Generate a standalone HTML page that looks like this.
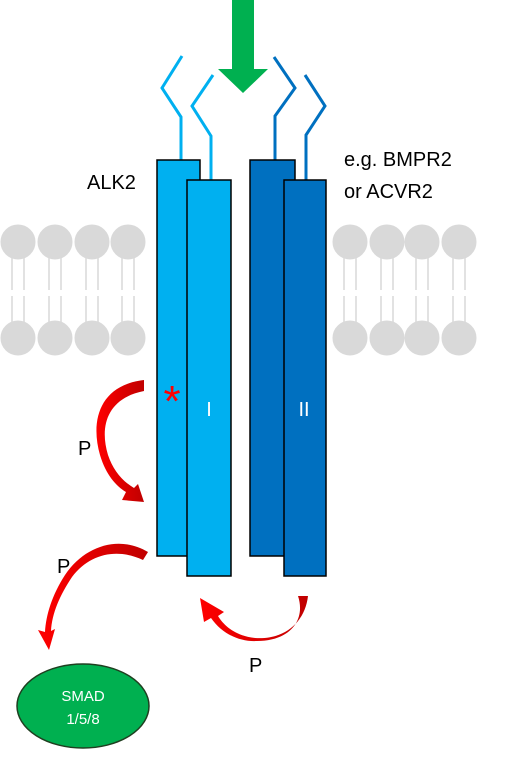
<!DOCTYPE html>
<html><head><meta charset="utf-8"><style>
body{margin:0;background:#fff;}
svg{display:block;font-family:"Liberation Sans",sans-serif;}
</style></head><body>
<svg width="505" height="758" viewBox="0 0 505 758">
<defs>
<linearGradient id="rg" x1="0" y1="0" x2="1" y2="0"><stop offset="0" stop-color="#ff0000"/><stop offset="1" stop-color="#c00000"/></linearGradient>
</defs>
<g fill="#d9d9d9" stroke="#d9d9d9">
<g stroke-width="1.5">
<line x1="12" y1="258" x2="12" y2="290"/><line x1="24" y1="258" x2="24" y2="290"/><line x1="49" y1="258" x2="49" y2="290"/><line x1="61" y1="258" x2="61" y2="290"/><line x1="86" y1="258" x2="86" y2="290"/><line x1="98" y1="258" x2="98" y2="290"/><line x1="122" y1="258" x2="122" y2="290"/><line x1="134" y1="258" x2="134" y2="290"/>
<line x1="12" y1="296" x2="12" y2="322"/><line x1="24" y1="296" x2="24" y2="322"/><line x1="49" y1="296" x2="49" y2="322"/><line x1="61" y1="296" x2="61" y2="322"/><line x1="86" y1="296" x2="86" y2="322"/><line x1="98" y1="296" x2="98" y2="322"/><line x1="122" y1="296" x2="122" y2="322"/><line x1="134" y1="296" x2="134" y2="322"/>
<line x1="344" y1="258" x2="344" y2="290"/><line x1="356" y1="258" x2="356" y2="290"/><line x1="381" y1="258" x2="381" y2="290"/><line x1="393" y1="258" x2="393" y2="290"/><line x1="416" y1="258" x2="416" y2="290"/><line x1="428" y1="258" x2="428" y2="290"/><line x1="453" y1="258" x2="453" y2="290"/><line x1="465" y1="258" x2="465" y2="290"/>
<line x1="344" y1="296" x2="344" y2="322"/><line x1="356" y1="296" x2="356" y2="322"/><line x1="381" y1="296" x2="381" y2="322"/><line x1="393" y1="296" x2="393" y2="322"/><line x1="416" y1="296" x2="416" y2="322"/><line x1="428" y1="296" x2="428" y2="322"/><line x1="453" y1="296" x2="453" y2="322"/><line x1="465" y1="296" x2="465" y2="322"/>
</g>
<circle cx="18" cy="242" r="17"/><circle cx="55" cy="242" r="17"/><circle cx="92" cy="242" r="17"/><circle cx="128" cy="242" r="17"/>
<circle cx="18" cy="338" r="17"/><circle cx="55" cy="338" r="17"/><circle cx="92" cy="338" r="17"/><circle cx="128" cy="338" r="17"/>
<circle cx="350" cy="242" r="17"/><circle cx="387" cy="242" r="17"/><circle cx="422" cy="242" r="17"/><circle cx="459" cy="242" r="17"/>
<circle cx="350" cy="338" r="17"/><circle cx="387" cy="338" r="17"/><circle cx="422" cy="338" r="17"/><circle cx="459" cy="338" r="17"/>
</g>
<g fill="#00b050">
<rect x="232" y="0" width="22" height="70"/><polygon points="218,69 268,69 243,93"/>
</g>
<g fill="none" stroke-width="3">
<polyline points="181,160 181,117 162,88 182,56" stroke="#00b0f0"/>
<polyline points="211,180 211,136 192,106 213,75" stroke="#00b0f0"/>
<polyline points="275,160 275,116 295,88 274,57" stroke="#0070c0"/>
<polyline points="306,180 306,135 325,106 305,75" stroke="#0070c0"/>
</g>
<g stroke="#000" stroke-width="1.5">
<rect x="157" y="160" width="43" height="396" fill="#00b0f0"/>
<rect x="187" y="180" width="44" height="396" fill="#00b0f0"/>
<rect x="250" y="160" width="45" height="396" fill="#0070c0"/>
<rect x="284" y="180" width="42" height="396" fill="#0070c0"/>
</g>
<text x="209" y="416" fill="#fff" font-size="20" text-anchor="middle">I</text>
<text x="304" y="416" fill="#fff" font-size="20" text-anchor="middle">II</text>
<text x="87" y="189" font-size="20" fill="#000">ALK2</text>
<text font-size="20" fill="#000"><tspan x="344" y="166">e.g. BMPR2</tspan><tspan x="344" y="198">or ACVR2</tspan></text>
<text x="172" y="416" font-size="44" fill="#ff0000" text-anchor="middle">*</text>
<g fill="url(#rg)">
<path d="M144,380 C100,385 90,420 100,455 C106,475 116,486 126,492 L122,500 L144,502 L138,484 L134,488 C122,481 113,470 108,455 C99,425 108,398 144,391 Z"/>
<path d="M148,552 C120,535 85,545 65,575 C52,595 46,615 45,632 L38,630 L49,650 L55,629 L51,631 C52,613 60,595 72,577 C90,553 118,548 143,560 Z"/>
<path d="M308,596 C305,622 285,640 255,638 C236,636 224,626 218,616 L224,612 L200,598 L204,622 L211,618 C222,634 240,642 257,641 C290,641 306,620 298,596 Z"/>
</g>
<text x="78" y="455" font-size="20">P</text>
<text x="57" y="573" font-size="20">P</text>
<text x="249" y="672" font-size="20">P</text>
<g>
<ellipse cx="83" cy="706" rx="66" ry="42" fill="#00b050" stroke="#1f3f20" stroke-width="1.5"/>
<text x="83" y="701" fill="#fff" font-size="15" text-anchor="middle">SMAD</text>
<text x="83" y="724" fill="#fff" font-size="15" text-anchor="middle">1/5/8</text>
</g>
</svg>
</body></html>
